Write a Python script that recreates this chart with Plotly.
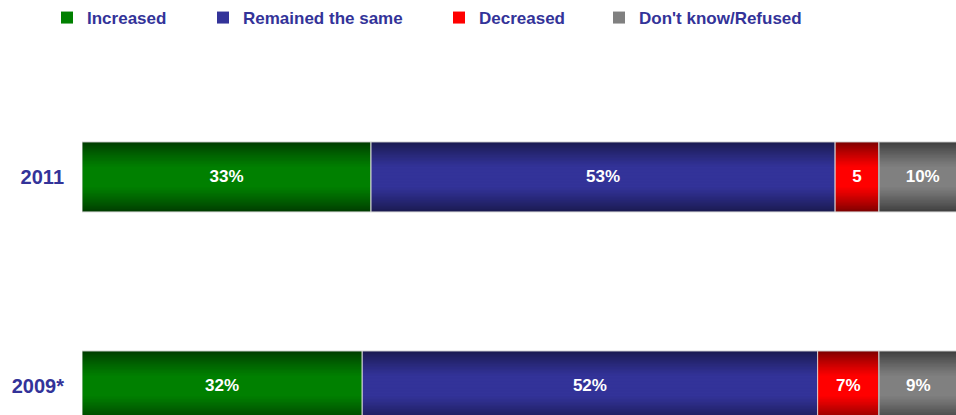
import plotly.graph_objects as go

# ---- data ----
years = ["2011", "2009*"]
series_names = ["Increased", "Remained the same", "Decreased", "Don't know/Refused"]
increased = [33, 32]
remained_same = [53, 52]
decreased = [5, 7]
dont_know = [10, 9]
labels_increased = ["33%", "32%"]
labels_remained = ["53%", "52%"]
labels_decreased = ["5", "7%"]
labels_dont_know = ["10%", "9%"]

series_values = [increased, remained_same, decreased, dont_know]
series_labels = [labels_increased, labels_remained, labels_decreased, labels_dont_know]

# ---- styles ----
mid_colors = [(0, 128, 0), (51, 51, 153), (255, 0, 0), (128, 128, 128)]
edge_colors = [(0, 60, 0), (26, 26, 80), (125, 0, 0), (62, 62, 62)]
legend_text_x = [87, 243, 479, 639]
BAR_W = 0.335
N_LAYERS = 24
TXT = "#333399"
FONT = "Liberation Sans, Arial, sans-serif"


def mix(a, b, f):
    return "rgb(%d,%d,%d)" % tuple(round(a[i] + (b[i] - a[i]) * f) for i in range(3))


fig = go.Figure()

bases = [0] * len(years)
for s, (name, vals, labs) in enumerate(zip(series_names, series_values, series_labels)):
    legend_id = "legend" if s == 0 else "legend%d" % (s + 1)
    for k in range(N_LAYERS):
        t = k / N_LAYERS
        f = min(1.0, t / 0.7) ** 0.85
        fig.add_trace(go.Bar(
            y=years, x=vals, base=bases, orientation="h",
            width=BAR_W * (1 - k / N_LAYERS),
            marker=dict(color=mix(edge_colors[s], mid_colors[s], f), line=dict(width=0)),
            name=name, legend=legend_id,
            showlegend=(k == N_LAYERS - 1),
            hoverinfo="skip",
        ))
    # outline + label layer
    fig.add_trace(go.Bar(
        y=years, x=vals, base=bases, orientation="h", width=BAR_W,
        marker=dict(color="rgba(0,0,0,0)", line=dict(width=1, color="#d8d8d8")),
        text=labs, textposition="inside", insidetextanchor="middle",
        constraintext="none", textangle=0,
        textfont=dict(family=FONT, size=17, color="white", weight="bold"),
        showlegend=False, hoverinfo="skip",
    ))
    bases = [b + v for b, v in zip(bases, vals)]

layout_legends = {}
for s in range(len(series_names)):
    key = "legend" if s == 0 else "legend%d" % (s + 1)
    layout_legends[key] = dict(
        x=(legend_text_x[s] - 40) / 956, xref="container", xanchor="left",
        y=1.0, yref="container", yanchor="top",
        orientation="h", bgcolor="rgba(0,0,0,0)",
        font=dict(family=FONT, size=17, color=TXT, weight="bold"),
        itemclick=False, itemdoubleclick=False,
    )

fig.update_layout(
    width=956, height=415,
    barmode="overlay",
    margin=dict(l=82, r=0, t=35, b=0, autoexpand=False),
    plot_bgcolor="white", paper_bgcolor="white",
    xaxis=dict(range=[0, 99.8], visible=False, fixedrange=True),
    yaxis=dict(
        type="category", categoryorder="array", categoryarray=["2009*", "2011"],
        range=[-0.139, 1.679], showgrid=False, zeroline=False, showline=False,
        ticks="", ticklabelstandoff=17, automargin=False,
        tickfont=dict(family=FONT, size=20, color=TXT, weight="bold"),
        fixedrange=True,
    ),
    **layout_legends,
)

fig.write_html(
    "out.html",
    config={"displayModeBar": False},
    post_script="document.body.style.margin='0';document.body.style.overflow='hidden';",
)
